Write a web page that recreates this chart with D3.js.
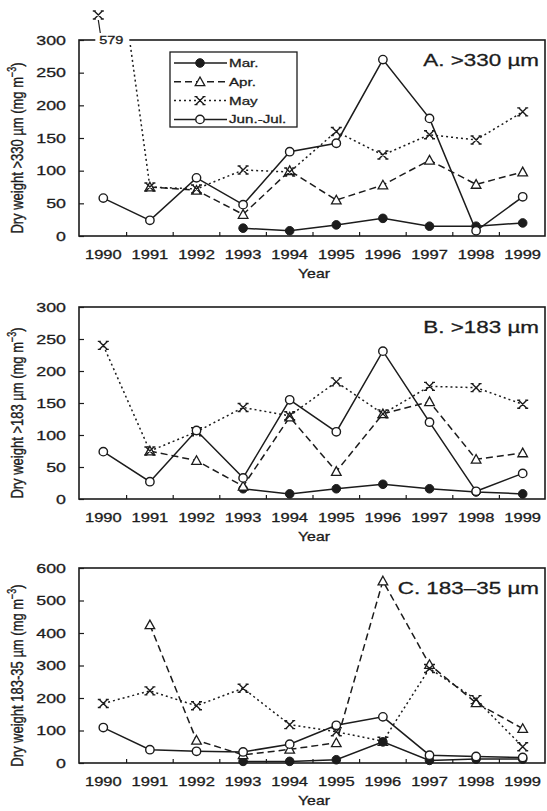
<!DOCTYPE html>
<html>
<head>
<meta charset="utf-8">
<script src="https://cdn.jsdelivr.net/npm/d3@7"></script>
<style>
  html, body { margin: 0; padding: 0; background: #fff; }
  svg { display: block; }
  text { font-family: "Liberation Sans", Arial, sans-serif; fill: #1c1c1c; stroke: #1c1c1c; stroke-width: 0.3px; }
</style>
</head>
<body>
<svg id="chart" width="547" height="811"></svg>
<script>
// Years sampled
const years = [1990, 1991, 1992, 1993, 1994, 1995, 1996, 1997, 1998, 1999];
const seriesNames = ["Mar.", "Apr.", "May", "Jun.-Jul."];

// A. >330 µm  (mg m-3)
const marA = [null, null, null, 12, 8, 17, 27, 15, 15, 20];
const aprA = [null, 75, 70, 33, 100, 55, 78, 116, 79, 98];
const mayA = [579, 75, 72, 101, 98, 160, 124, 155, 147, 190];
const junA = [58, 24, 89, 48, 129, 142, 270, 180, 8, 60];

// B. >183 µm
const marB = [null, null, null, 16, 8, 16, 23, 16, 11, 8];
const aprB = [null, 75, 60, 20, 128, 43, 133, 152, 62, 72];
const mayB = [240, 75, 105, 143, 130, 183, 133, 176, 174, 148];
const junB = [74, 27, 107, 33, 155, 105, 231, 120, 12, 40];

// C. 183-35 µm
const marC = [null, null, null, 5, 5, 10, 65, 8, 12, 12];
const aprC = [null, 425, 70, 25, 42, 62, 560, 303, 185, 106];
const mayC = [183, 222, 176, 230, 118, 96, 67, 291, 195, 50];
const junC = [109, 41, 36, 34, 58, 116, 142, 24, 20, 17];

// Axis ticks
const yTicksAB = [0, 50, 100, 150, 200, 250, 300];
const yTicksC = [0, 100, 200, 300, 400, 500, 600];

const panelTitles = ["A. >330 \u00b5m", "B. >183 \u00b5m", "C. 183\u201335 \u00b5m"];
const yLabelTexts = ["Dry weight >330 \u00b5m (mg m", "Dry weight >183 \u00b5m (mg m", "Dry weight 183-35 \u00b5m (mg m"];
const xLabelText = "Year";

// ---------------------------------------------------------------
const svg = d3.select("#chart");
const INK = "#1c1c1c";
const SX = 1.32; // wide letterforms

function wideText(g, x, y, str, size, anchor) {
  return g.append("text")
    .attr("transform", `translate(${x},${y}) scale(${SX},1)`)
    .attr("text-anchor", anchor || "start")
    .attr("font-size", size)
    .text(str);
}

const styles = [
  { dash: null,  marker: "dot" },
  { dash: "7,4", marker: "tri" },
  { dash: "2,3", marker: "cross" },
  { dash: null,  marker: "ring" }
];

function drawMarker(g, kind, x, y) {
  if (kind === "dot") {
    g.append("circle").attr("cx", x).attr("cy", y).attr("r", 4.3)
      .attr("fill", INK).attr("stroke", INK).attr("stroke-width", 1);
  } else if (kind === "ring") {
    g.append("circle").attr("cx", x).attr("cy", y).attr("r", 4.2)
      .attr("fill", "#fff").attr("stroke", INK).attr("stroke-width", 1.4);
  } else if (kind === "tri") {
    const s = 4.8;
    g.append("path")
      .attr("d", `M${x},${y - s}L${x + s},${y + s * 0.8}L${x - s},${y + s * 0.8}Z`)
      .attr("fill", "#fff").attr("stroke", INK).attr("stroke-width", 1.3);
  } else {
    const s = 4;
    g.append("path")
      .attr("d", `M${x - s},${y - s}L${x + s},${y + s}M${x - s},${y + s}L${x + s},${y - s}` +
                 `M${x - s - 1.5},${y - s}H${x - s + 1.5}M${x + s - 1.5},${y - s}H${x + s + 1.5}` +
                 `M${x - s - 1.5},${y + s}H${x - s + 1.5}M${x + s - 1.5},${y + s}H${x + s + 1.5}`)
      .attr("fill", "none").attr("stroke", INK).attr("stroke-width", 1.4);
  }
}

const panels = [
  { top: 40,  bottom: 236, left: 79, right: 545, max: 300, ticks: yTicksAB, series: [marA, aprA, mayA, junA], legend: true },
  { top: 307, bottom: 499, left: 79, right: 545, max: 300, ticks: yTicksAB, series: [marB, aprB, mayB, junB] },
  { top: 568, bottom: 763, left: 79, right: 545, max: 600, ticks: yTicksC, series: [marC, aprC, mayC, junC] }
];

panels.forEach((p, pi) => {
  const g = svg.append("g");
  const x = d3.scalePoint().domain(years).range([p.left + 1, p.right + 1]).padding(0.5);
  const y = d3.scaleLinear().domain([0, p.max]).range([p.bottom, p.top]);
  const step = x.step();

  // y axis with inward ticks
  const yAxis = g.append("g").attr("transform", `translate(${p.left},0)`)
    .call(d3.axisLeft(y).tickValues(p.ticks).tickSizeInner(-5).tickSizeOuter(0).tickFormat(""));
  yAxis.select(".domain").remove();
  yAxis.selectAll("line").attr("stroke", INK).attr("stroke-width", 1.2);
  p.ticks.forEach(t => {
    wideText(g, p.left - 13, y(t) + 4.8, String(t), 13.5, "end");
  });

  // x axis: labels at the years, ticks on the boundaries between them
  const xAxis = g.append("g").attr("transform", `translate(0,${p.bottom})`)
    .call(d3.axisBottom(x).tickSize(0).tickFormat(""));
  xAxis.select(".domain").remove();
  years.slice(0, -1).forEach(yr => {
    const bx = x(yr) + step / 2;
    g.append("line").attr("x1", bx).attr("x2", bx).attr("y1", p.bottom).attr("y2", p.bottom - 4)
      .attr("stroke", INK).attr("stroke-width", 1.2);
  });
  years.forEach(yr => wideText(g, x(yr), p.bottom + 23, String(yr), 12.5, "middle"));
  wideText(g, (p.left + p.right) / 2 + 2, p.bottom + 42, xLabelText, 12, "middle");

  // y axis title
  const yl = g.append("text")
    .attr("transform", `translate(${23},${(p.top + p.bottom) / 2 + 10}) scale(${SX},1) rotate(-90)`)
    .attr("text-anchor", "middle")
    .attr("font-size", 13);
  yl.append("tspan").text(yLabelTexts[pi]);
  yl.append("tspan").attr("font-size", 9).attr("dy", -5).text("\u22123");
  yl.append("tspan").attr("dy", 5).text(")");

  // panel title
  wideText(g, p.right - 6, p.top + 26, panelTitles[pi], 17, "end");

  // series lines
  const line = d3.line().defined(d => d.v != null).x(d => x(d.yr)).y(d => y(d.v));
  const overflow = [];
  p.series.forEach((vals, si) => {
    const pts = years.map((yr, i) => ({ yr, v: vals[i] }));
    const inRange = pts.map(d => (d.v != null && d.v > p.max) ? { yr: d.yr, v: null } : d);
    pts.forEach((d, i) => { if (d.v != null && d.v > p.max) overflow.push({ si, i, d, pts }); });
    g.append("path").datum(inRange).attr("d", line)
      .attr("fill", "none").attr("stroke", INK).attr("stroke-width", 1.5)
      .attr("stroke-dasharray", styles[si].dash);
  });

  // frame (drawn after lines)
  g.append("rect").attr("x", p.left).attr("y", p.top)
    .attr("width", p.right - p.left).attr("height", p.bottom - p.top)
    .attr("fill", "none").attr("stroke", INK).attr("stroke-width", 1.6);

  // off-scale values: marker above the frame with the value written on the break
  overflow.forEach(o => {
    const cx = x(o.d.yr);
    const lx = cx + 8, ly = p.top;
    g.append("rect").attr("x", cx - 8).attr("y", ly - 7).attr("width", 34).attr("height", 14).attr("fill", "#fff");
    wideText(g, lx, ly + 4, String(o.d.v), 11, "middle");
    drawMarker(g, styles[o.si].marker, cx - 5, p.top - 25);
    g.append("line").attr("x1", cx - 5).attr("y1", p.top - 20).attr("x2", cx - 3).attr("y2", p.top - 7)
      .attr("stroke", INK).attr("stroke-width", 1.2);
    const next = o.pts[o.i + 1];
    if (next && next.v != null) {
      g.append("line").attr("x1", cx + 27).attr("y1", p.top + 5).attr("x2", x(next.yr)).attr("y2", y(next.v))
        .attr("stroke", INK).attr("stroke-width", 1.5).attr("stroke-dasharray", styles[o.si].dash);
    }
  });

  // markers
  p.series.forEach((vals, si) => {
    vals.forEach((v, i) => {
      if (v == null || v > p.max) return;
      drawMarker(g, styles[si].marker, x(years[i]), y(v));
    });
  });

  // legend
  if (p.legend) {
    const lg = g.append("g");
    lg.append("rect").attr("x", 170).attr("y", p.top + 12).attr("width", 127).attr("height", 75)
      .attr("fill", "#fff").attr("stroke", INK).attr("stroke-width", 1.3);
    seriesNames.forEach((name, si) => {
      const ry = p.top + 23 + si * 18.8;
      lg.append("line").attr("x1", 174).attr("x2", 227).attr("y1", ry).attr("y2", ry)
        .attr("stroke", INK).attr("stroke-width", 1.5).attr("stroke-dasharray", styles[si].dash);
      drawMarker(lg, styles[si].marker, 200, ry);
      wideText(lg, 229, ry + 4, name, 11.5, "start");
    });
  }
});
</script>
</body>
</html>
